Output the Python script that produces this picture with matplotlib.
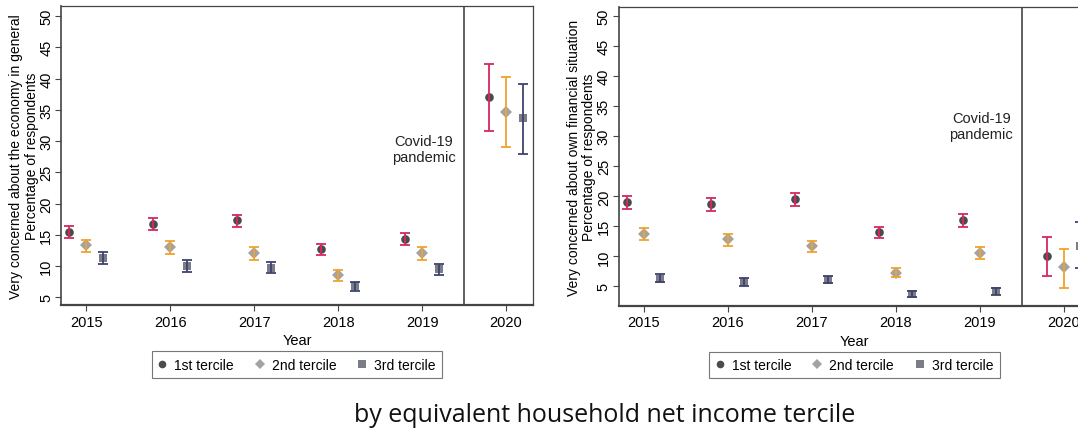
import matplotlib
matplotlib.use("Agg")
import matplotlib.pyplot as plt
from matplotlib.lines import Line2D
import numpy as np

years = [2015, 2016, 2017, 2018, 2019, 2020]
tercile_labels = ["1st tercile", "2nd tercile", "3rd tercile"]

# Panel 1: very concerned about the economy in general (%)
econ_t1 = [15.5, 16.7, 17.3, 12.7, 14.4, 37.0]
econ_t1_hi = [16.4, 17.7, 18.2, 13.6, 15.35, 42.3]
econ_t1_lo = [14.5, 15.7, 16.2, 11.8, 13.3, 31.6]
econ_t2 = [13.3, 13.0, 12.1, 8.5, 12.1, 34.7]
econ_t2_hi = [14.2, 14.0, 13.0, 9.3, 13.05, 40.2]
econ_t2_lo = [12.2, 11.9, 11.0, 7.55, 11.0, 29.0]
econ_t3 = [11.35, 10.0, 9.75, 6.75, 9.5, 33.7]
econ_t3_hi = [12.2, 10.9, 10.6, 7.5, 10.4, 39.2]
econ_t3_lo = [10.3, 9.0, 8.9, 5.95, 8.5, 27.9]

# Panel 2: very concerned about own financial situation (%)
fin_t1 = [19.0, 18.7, 19.55, 14.1, 16.1, 10.0]
fin_t1_hi = [20.0, 19.7, 20.5, 14.9, 17.1, 13.3]
fin_t1_lo = [17.9, 17.5, 18.4, 13.05, 14.9, 6.7]
fin_t2 = [13.8, 12.9, 11.7, 7.3, 10.55, 8.2]
fin_t2_hi = [14.8, 13.8, 12.5, 8.1, 11.5, 11.2]
fin_t2_lo = [12.8, 11.7, 10.7, 6.5, 9.5, 4.8]
fin_t3 = [6.3, 5.8, 6.1, 3.8, 4.2, 11.8]
fin_t3_hi = [7.05, 6.4, 6.8, 4.3, 4.8, 15.7]
fin_t3_lo = [5.7, 5.1, 5.5, 3.3, 3.6, 8.0]

yticks = [5, 10, 15, 20, 25, 30, 35, 40, 45, 50]

FONT = ["Liberation Sans", "DejaVu Sans"]
plt.rcParams["font.family"] = FONT

W, H = 1078, 435
fig = plt.figure(figsize=(W / 100, H / 100), dpi=100)

marker_colors = ["#4a4a4f", "#a3a3a3", "#7b7d86"]
markers = ["o", "D", "s"]
msizes = [6.2, 6.2, 6.0]
bar_colors = ["#d42a5c", "#f0a22a", "#3f4272"]
offsets = [-0.2, 0.0, 0.2]
axis_color = "#444444"


def panel(rect, ylim, series, ylabel, covid_y):
    ax = fig.add_axes(rect)
    for i, (v, hi, lo) in enumerate(series):
        x = np.array(years) + offsets[i]
        v = np.array(v); hi = np.array(hi); lo = np.array(lo)
        ax.plot(x, v, linestyle="none", marker=markers[i], ms=msizes[i],
                color=marker_colors[i], markeredgewidth=0, zorder=2)
        ax.errorbar(x, v, yerr=[v - lo, hi - v], fmt="none", ecolor=bar_colors[i],
                    elinewidth=1.3, capsize=3.5, capthick=1.3, zorder=3)
    ax.axvline(2019.5, color=axis_color, lw=1.2, zorder=1)
    ax.text(2019.4, covid_y, "Covid-19\npandemic", ha="right", va="center",
            multialignment="center", fontsize=10.5, color="#222222")
    ax.set_xlim(2014.70, 2020.32)
    ax.set_ylim(*ylim)
    ax.set_xticks(years)
    ax.set_xticklabels([str(y) for y in years], fontsize=10.5)
    ax.set_yticks(yticks)
    ax.set_yticklabels([str(t) for t in yticks], fontsize=10.5, rotation=90, va="center")
    ax.tick_params(axis="x", length=4, width=0.8, color=axis_color, pad=3)
    ax.tick_params(axis="y", length=4, width=0.8, color=axis_color, pad=1.5)
    for s in ax.spines.values():
        s.set_color(axis_color)
        s.set_linewidth(0.9)
    ax.spines["bottom"].set_linewidth(1.6)
    ax.spines["left"].set_linewidth(1.2)
    ax.set_ylabel(ylabel, fontsize=10, labelpad=0.5, linespacing=1.12)
    ax.set_xlabel("Year", fontsize=10.5, labelpad=3)
    handles = [Line2D([], [], linestyle="none", marker=markers[i], ms=msizes[i] - 0.7,
                      color=marker_colors[i], markeredgewidth=0) for i in range(3)]
    leg = ax.legend(handles, tercile_labels, loc="upper center", bbox_to_anchor=(0.5, -0.155),
                    ncol=3, frameon=True, fancybox=False, fontsize=10,
                    handlelength=0.6, handletextpad=0.56, columnspacing=1.57,
                    borderpad=0.45, borderaxespad=0, edgecolor="#555555")
    leg.get_frame().set_linewidth(0.8)
    return ax


ax1 = panel([61 / W, 1 - 306 / H, 472 / W, 299 / H], (3.77, 51.6),
            [(econ_t1, econ_t1_hi, econ_t1_lo), (econ_t2, econ_t2_hi, econ_t2_lo),
             (econ_t3, econ_t3_hi, econ_t3_lo)],
            "Very concerned about the economy in general\nPercentage of respondents", 28.7)

ax2 = panel([618.5 / W, 1 - 306.7 / H, 472 / W, 298.4 / H], (1.77, 51.5),
            [(fin_t1, fin_t1_hi, fin_t1_lo), (fin_t2, fin_t2_hi, fin_t2_lo),
             (fin_t3, fin_t3_hi, fin_t3_lo)],
            "Very concerned about own financial situation\nPercentage of respondents", 31.7)

fig.text(605 / W, 1 - 416 / H, "by equivalent household net income tercile",
         ha="center", va="center", fontsize=18, family=["Open Sans", "DejaVu Sans"],
         color="#111111")

fig.savefig("out.png", dpi=100)
